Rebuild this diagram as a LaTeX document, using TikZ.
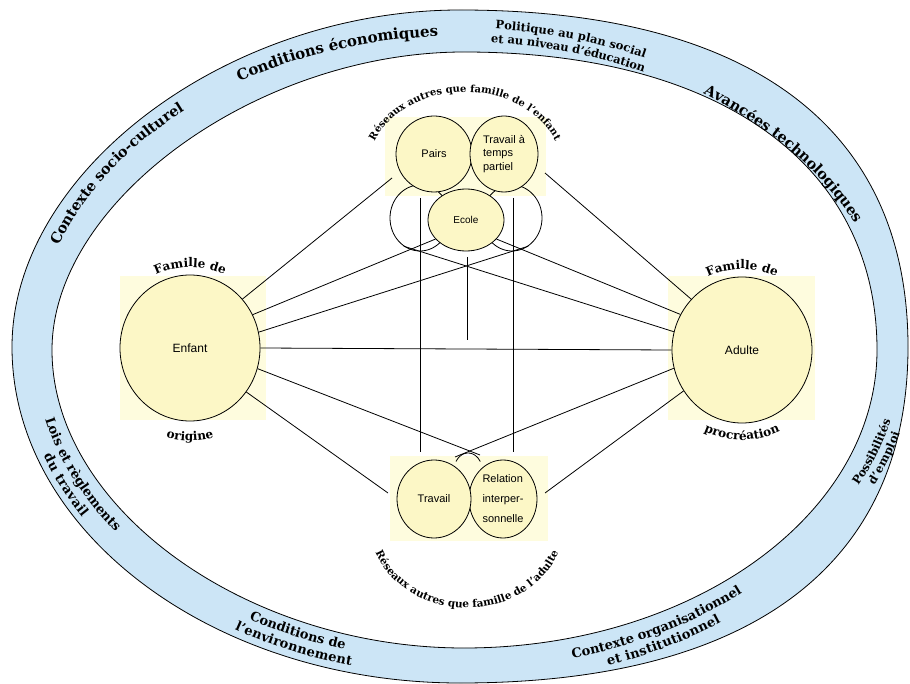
\documentclass[tikz,border=0pt]{standalone}
\usepackage{fontspec}
\setmainfont{DejaVu Serif}
\newfontfamily\nodefont{Liberation Sans}
\usetikzlibrary{shapes.geometric,decorations.text}
\definecolor{bandblue}{RGB}{204,229,246}
\definecolor{circyel}{RGB}{252,247,198}
\definecolor{rectyel}{RGB}{254,252,222}
\tikzset{
  arclabel/.style n args={3}{decorate, decoration={text along path, text align=center, raise=#1,
      text={|\bfseries\fontsize{#2}{#2}\selectfont|#3}}},
  bigc/.style={ellipse, draw, fill=circyel, line width=0.8pt, inner sep=0pt,
      minimum width=140pt, minimum height=146pt, font=\nodefont\fontsize{12}{13}\selectfont},
  smallc/.style={ellipse, draw, fill=circyel, line width=0.8pt, inner sep=0pt, align=left,
      font=\nodefont\fontsize{11}{13}\selectfont},
  lobe/.style={ellipse, draw, line width=0.8pt, inner sep=0pt, minimum width=60pt, minimum height=66pt},
  conn/.style={line width=0.8pt},
  bandline/.style={line width=0.8pt},
  yelrect/.style={fill=rectyel}
}
\begin{document}
\begin{tikzpicture}[x=1pt,y=1pt]
\useasboundingbox (0,0) rectangle (910,-684);
\fill[white] (0,0) rectangle (910,-684);
% outer band
\path[fill=bandblue, draw, bandline, even odd rule]
  (908,-347) .. controls (908,-128) and (751,-10) .. (460,-10)
  .. controls (227,-10) and (12,-172) .. (12,-347)
  .. controls (12,-532) and (214,-683) .. (460,-683)
  .. controls (751,-683) and (908,-565) .. (908,-347) -- cycle
  (877,-350) .. controls (877,-165) and (720,-52) .. (464,-52)
  .. controls (258,-52) and (52,-201) .. (52,-350)
  .. controls (52,-508) and (246,-648) .. (464,-648)
  .. controls (692,-648) and (877,-515) .. (877,-350) -- cycle;
% band labels
\path[arclabel={-5pt}{14.5}{Contexte socio-culturel}] ([shift={(176:431 and 317)}]461,-348) arc[start angle=176,end angle=118,x radius=431,y radius=317];
\path[arclabel={-5pt}{15}{Conditions économiques}] ([shift={(152:431 and 317)}]461,-348) arc[start angle=152,end angle=66,x radius=431,y radius=317];
\path[arclabel={3pt}{11.5}{Politique au plan social}] ([shift={(110:431 and 317)}]461,-348) arc[start angle=110,end angle=38,x radius=431,y radius=317];
\path[arclabel={-11pt}{11.5}{et au niveau d'éducation}] ([shift={(110:431 and 317)}]461,-348) arc[start angle=110,end angle=38,x radius=431,y radius=317];
\path[arclabel={-5pt}{14.5}{Avancées technologiques}] ([shift={(68:431 and 323)}]470,-360) arc[start angle=68,end angle=12,x radius=431,y radius=323];
\path[arclabel={3pt}{11.5}{Possibilités}] ([shift={(312:435 and 313)}]470,-350) arc[start angle=312,end angle=372,x radius=435,y radius=313];
\path[arclabel={-10pt}{11.5}{d'emploi}] ([shift={(312:435 and 313)}]470,-350) arc[start angle=312,end angle=372,x radius=435,y radius=313];
\path[arclabel={4pt}{13}{Contexte organisationnel}] ([shift={(260:438 and 323)}]461,-350) arc[start angle=260,end angle=340,x radius=438,y radius=323];
\path[arclabel={-11pt}{13}{et institutionnel}] ([shift={(260:438 and 323)}]461,-350) arc[start angle=260,end angle=340,x radius=438,y radius=323];
\path[arclabel={4pt}{13}{Conditions de}] ([shift={(216:431 and 317)}]461,-348) arc[start angle=216,end angle=276,x radius=431,y radius=317];
\path[arclabel={-11pt}{13}{l'environnement}] ([shift={(216:431 and 317)}]461,-348) arc[start angle=216,end angle=276,x radius=431,y radius=317];
\path[arclabel={4pt}{13}{Lois et règlements}] ([shift={(172:431 and 317)}]461,-348) arc[start angle=172,end angle=234,x radius=431,y radius=317];
\path[arclabel={-11pt}{13}{du travail}] ([shift={(172:431 and 317)}]461,-348) arc[start angle=172,end angle=234,x radius=431,y radius=317];
% yellow backgrounds
\fill[yelrect] (120,-276) rectangle (266,-420);
\fill[yelrect] (668,-276) rectangle (815,-420);
\fill[yelrect] (385,-117) rectangle (546,-196);
\fill[yelrect] (390,-456) rectangle (548,-541);
% lobes behind the top cluster
\node[lobe] (llobe) at (420,-218) {};
\node[lobe] (rlobe) at (512,-218) {};
% free connector ends
\coordinate (l1e) at (392,-178);
\coordinate (r1e) at (545,-173);
\coordinate (l5e) at (480,-455);
\coordinate (r5e) at (455,-457);
\coordinate (l6e) at (388,-493);
\coordinate (r6e) at (545,-493);
\coordinate (vlt) at (420,-198);
\coordinate (vlb) at (420,-452);
\coordinate (vrt) at (513,-198);
\coordinate (vrb) at (513,-452);
\coordinate (ect) at (467,-257);
\coordinate (ecb) at (467,-340);
% main circles
\node[bigc] (enfant) at (190,-348) {Enfant};
\node[bigc] (adulte) at (742,-350) {Adulte};
% top cluster
\node[smallc, minimum width=76pt, minimum height=76pt] (pairs) at (434,-154) {Pairs};
\node[smallc, minimum width=68pt, minimum height=76pt, font=\nodefont\fontsize{11}{13.5}\selectfont] (ttp) at (504,-154) {Travail à\\temps\\partiel};
\node[smallc, minimum width=76pt, minimum height=62pt, font=\nodefont\fontsize{10}{12}\selectfont] (ecole) at (466,-220) {Ecole};
% bottom cluster
\node[smallc, minimum width=68pt, minimum height=78pt, font=\nodefont\fontsize{11}{20}\selectfont] (rel) at (503,-499) {Relation\\interper-\\sonnelle};
\node[smallc, minimum width=74pt, minimum height=78pt] (travail) at (434,-499) {Travail};
% connectors
\draw[conn] (enfant.43) -- (l1e);
\draw[conn] (enfant.28) -- (ecole.212);
\draw[conn] (enfant.13) -- (rlobe.-60);
\draw[conn] (enfant.0) -- (adulte.180);
\draw[conn] (enfant.-17) -- (l5e);
\draw[conn] (enfant.-38) -- (l6e);
\draw[conn] (adulte.135) -- (r1e);
\draw[conn] (adulte.150) -- (ecole.-32);
\draw[conn] (adulte.165) -- (llobe.240);
\draw[conn] (adulte.195) -- (r5e);
\draw[conn] (adulte.215) -- (r6e);
\draw[conn] (vlt) -- (vlb);
\draw[conn] (vrt) -- (vrb);
\draw[conn] (ect) -- (ecb);
\draw[conn] (456,-461.5) arc[start angle=150,end angle=30,x radius=14,y radius=17];
% arc labels
\path[arclabel={0pt}{12}{Famille de}] ([shift={(150:80 and 81)}]enfant.center) arc[start angle=150,end angle=30,x radius=80,y radius=81];
\path[arclabel={0pt}{12}{origine}] ([shift={(230:93 and 93)}]enfant.center) arc[start angle=230,end angle=310,x radius=93,y radius=93];
\path[arclabel={0pt}{12}{Famille de}] ([shift={(150:80 and 81)}]adulte.center) arc[start angle=150,end angle=30,x radius=80,y radius=81];
\path[arclabel={0pt}{12}{procréation}] ([shift={(225:90 and 90)}]adulte.center) arc[start angle=225,end angle=315,x radius=90,y radius=90];
\path[arclabel={0pt}{10}{Réseaux autres que famille de l'enfant}] ([shift={(178:98 and 80)}]465,-172) arc[start angle=178,end angle=2,x radius=98,y radius=80];
\path[arclabel={0pt}{10.5}{Réseaux autres que famille de l'adulte}] ([shift={(182:98 and 86)}]467,-522) arc[start angle=182,end angle=358,x radius=98,y radius=86];
\end{tikzpicture}
\end{document}
